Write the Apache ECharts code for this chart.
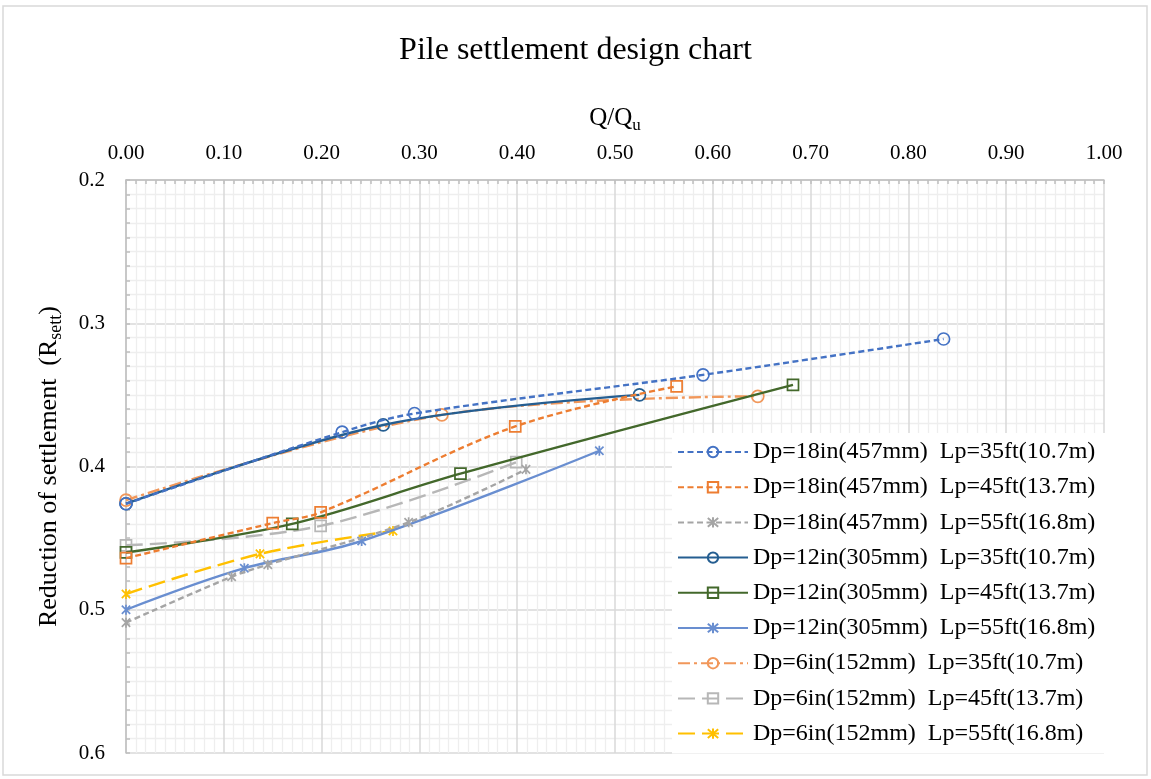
<!DOCTYPE html>
<html>
<head>
<meta charset="utf-8">
<script src="https://cdn.jsdelivr.net/npm/echarts@6/dist/echarts.min.js"></script>
<style>
html,body{margin:0;padding:0;background:#fff;}
#chart{width:1151px;height:779px;}
</style>
</head>
<body>
<div id="chart"></div>
<script>
// ---- data ----
const seriesNames = [
  'Dp=18in(457mm)  Lp=35ft(10.7m)',
  'Dp=18in(457mm)  Lp=45ft(13.7m)',
  'Dp=18in(457mm)  Lp=55ft(16.8m)',
  'Dp=12in(305mm)  Lp=35ft(10.7m)',
  'Dp=12in(305mm)  Lp=45ft(13.7m)',
  'Dp=12in(305mm)  Lp=55ft(16.8m)',
  'Dp=6in(152mm)  Lp=35ft(10.7m)',
  'Dp=6in(152mm)  Lp=45ft(13.7m)',
  'Dp=6in(152mm)  Lp=55ft(16.8m)'
];
const x18in35 = [0, 0.221, 0.295, 0.590, 0.836];
const y18in35 = [0.426, 0.376, 0.363, 0.336, 0.311];
const x18in45 = [0, 0.150, 0.199, 0.398, 0.563];
const y18in45 = [0.464, 0.4395, 0.432, 0.372, 0.344];
const x18in55 = [0, 0.108, 0.145, 0.289, 0.409];
const y18in55 = [0.509, 0.477, 0.4685, 0.439, 0.402];
const x12in35 = [0, 0.263, 0.525];
const y12in35 = [0.426, 0.371, 0.350];
const x12in45 = [0, 0.170, 0.342, 0.682];
const y12in45 = [0.460, 0.440, 0.405, 0.343];
const x12in55 = [0, 0.121, 0.241, 0.484];
const y12in55 = [0.500, 0.471, 0.452, 0.389];
const x6in35 = [0, 0.323, 0.646];
const y6in35 = [0.4235, 0.364, 0.351];
const x6in45 = [0, 0.199, 0.399];
const y6in45 = [0.455, 0.4415, 0.397];
const x6in55 = [0, 0.137, 0.273];
const y6in55 = [0.489, 0.461, 0.445];

const allX = [x18in35, x18in45, x18in55, x12in35, x12in45, x12in55, x6in35, x6in45, x6in55];
const allY = [y18in35, y18in45, y18in55, y12in35, y12in45, y12in55, y6in35, y6in45, y6in55];

// ---- styles ----
const colors = ['#4472C4', '#ED7D31', '#A5A5A5', '#255E91', '#43682B', '#698ED0', '#F1975A', '#B7B7B7', '#FFC000'];
const ASTER = 'path://M0,0L10,10M10,0L0,10M5,-1L5,11';
const symbols = ['circle', 'rect', ASTER, 'circle', 'rect', ASTER, 'circle', 'rect', ASTER];
const dashes = [[6,3.5], [6,3.5], [6,3.5], 'solid', 'solid', 'solid', [12,4,3,4], [17,7], [17,7]];

const FONT = 'Liberation Serif';

const series = seriesNames.map((name, i) => ({
  name: name,
  type: 'line',
  smooth: 0.35,
  data: allX[i].map((x, j) => [x, allY[i][j]]),
  symbol: symbols[i],
  symbolSize: symbols[i] === ASTER ? 10 : (symbols[i] === 'rect' ? 11 : 12),
  symbolKeepAspect: true,
  color: colors[i],
  lineStyle: { color: colors[i], width: 2.4, type: dashes[i] },
  itemStyle: { color: 'rgba(255,255,255,0)', borderColor: colors[i], borderWidth: 1.7 },
  emphasis: { disabled: true },
  z: 3 + (8 - i) * 0.01
}));

const chart = echarts.init(document.getElementById('chart'), null, { renderer: 'canvas' });
chart.setOption({
  animation: false,
  backgroundColor: '#fff',
  textStyle: { fontFamily: FONT, color: '#000' },
  title: {
    text: 'Pile settlement design chart',
    left: 'center',
    top: 30,
    textStyle: { fontFamily: FONT, fontSize: 32, fontWeight: 'normal', color: '#000' }
  },
  graphic: [{
    type: 'rect',
    shape: { x: 3, y: 6, width: 1144, height: 769 },
    style: { fill: 'none', stroke: '#D9D9D9', lineWidth: 1.5 },
    silent: true, z: -1
  }],
  grid: { left: 126, top: 180, right: 47, bottom: 26 },
  legend: {
    orient: 'vertical',
    left: 672,
    top: 433,
    padding: [7, 11, 8, 5],
    itemWidth: 70,
    itemHeight: 13,
    itemGap: 11.2,
    itemTextGap: 6,
    backgroundColor: '#fff',
    textStyle: { fontFamily: FONT, fontSize: 24, lineHeight: 24, color: '#000' },
    data: seriesNames
  },
  xAxis: {
    type: 'value',
    position: 'top',
    min: 0, max: 1, interval: 0.1,
    name: 'Q/Q{sub|u}',
    nameLocation: 'middle',
    nameGap: 46,
    nameTextStyle: {
      fontFamily: FONT, fontSize: 25, color: '#000',
      rich: { sub: { fontFamily: FONT, fontSize: 17, verticalAlign: 'bottom', lineHeight: 31, color: '#000' } }
    },
    axisLine: { show: true, onZero: false, lineStyle: { color: '#BFBFBF', width: 1.5 } },
    axisTick: { show: true, inside: true, length: 4, lineStyle: { color: '#BFBFBF', width: 1.5 } },
    minorTick: { show: true, splitNumber: 10, length: 4, lineStyle: { color: '#BFBFBF', width: 1.5 } },
    splitLine: { show: true, lineStyle: { color: '#D9D9D9', width: 1.5 } },
    minorSplitLine: { show: true, lineStyle: { color: '#EEEEEE', width: 1.3 } },
    axisLabel: { fontFamily: FONT, fontSize: 21, color: '#000', margin: 16, formatter: v => v.toFixed(2) }
  },
  yAxis: {
    type: 'value',
    inverse: true,
    min: 0.2, max: 0.6, interval: 0.1,
    name: 'Reduction of settlement  (R{sub|sett})',
    nameLocation: 'middle',
    nameRotate: 90,
    nameGap: 61,
    nameTextStyle: {
      fontFamily: FONT, fontSize: 26, color: '#000',
      rich: { sub: { fontFamily: FONT, fontSize: 18, verticalAlign: 'bottom', lineHeight: 32, color: '#000' } }
    },
    axisLine: { show: true, onZero: false, lineStyle: { color: '#BFBFBF', width: 1.5 } },
    axisTick: { show: true, inside: true, length: 4, lineStyle: { color: '#BFBFBF', width: 1.5 } },
    minorTick: { show: true, splitNumber: 10, length: 4, lineStyle: { color: '#BFBFBF', width: 1.5 } },
    splitLine: { show: true, lineStyle: { color: '#D9D9D9', width: 1.5 } },
    minorSplitLine: { show: true, lineStyle: { color: '#EEEEEE', width: 1.3 } },
    axisLabel: { fontFamily: FONT, fontSize: 21, color: '#000', margin: 21, formatter: v => v.toFixed(1) }
  },
  series: series
});
</script>
</body>
</html>
